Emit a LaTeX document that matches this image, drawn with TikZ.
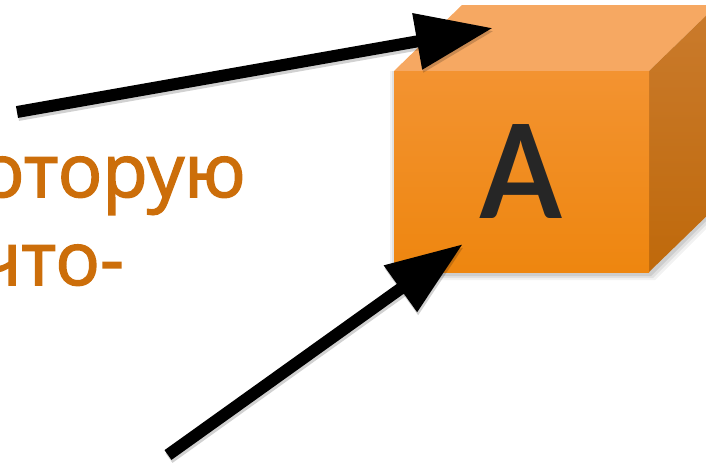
\documentclass[tikz,border=0pt]{standalone}
\usepackage{fontspec}
\setmainfont{Open Sans}
\newfontfamily\phrasefont[FakeBold=2]{Open Sans}
\newfontfamily\letterfont{Lato}
\usetikzlibrary{arrows.meta}
\definecolor{txtorange}{HTML}{CC6E0A}
\definecolor{frontTop}{HTML}{F39331}
\definecolor{frontBot}{HTML}{EE860F}
\definecolor{topFace}{HTML}{F6A862}
\definecolor{sideTop}{HTML}{CA7B2D}
\definecolor{sideBot}{HTML}{BF690B}
\definecolor{letterGray}{HTML}{262626}
\tikzset{
  bigarrow/.style={line width=12pt, draw=black,
    -{Triangle[length=77pt,width=54pt]}},
  arrowshadow/.style={line width=12pt, draw=black, opacity=0.18,
    -{Triangle[length=77pt,width=54pt]}},
  phrase/.style={text=txtorange, font=\phrasefont\fontsize{74}{88}\selectfont,
    inner sep=0pt, anchor=base east},
}
\begin{document}
\begin{tikzpicture}[x=1pt,y=-1pt]
\useasboundingbox (0,0) rectangle (706,467);
\clip (0,0) rectangle (706,467);

% soft shadow under the box
\foreach \d/\o in {6/0.05,4/0.07,2/0.09}
  \fill[black, opacity=\o] (394-\d+2,71) -- (649+\d,71) -- (717+\d,5)
     -- (717+\d,206+\d) -- (649+\d,272+\d+2) -- (394-\d+2,272+\d+2) -- cycle;

% box faces
\fill[topFace] (394,71) -- (462,5) -- (717,5) -- (649,71) -- cycle;
\shade[top color=sideTop, bottom color=sideBot]
  (649,71) -- (717,5) -- (717,206) -- (649,272) -- cycle;
\node[rectangle, minimum width=255pt, minimum height=201pt, inner sep=0pt,
      top color=frontTop, bottom color=frontBot, text=letterGray,
      font=\letterfont\bfseries\fontsize{130}{130}\selectfont]
  (front) at (521.5,171.5) {\scalebox{0.9}[1]{A}};

% text
\node[phrase] (line1) at (246,197) {которую};
\node[phrase] (line2) at (124,285) {что-};

% arrow end points
\coordinate (tailA) at (17,112);
\coordinate (tipA) at (493,28);
\coordinate (tailB) at (168,455);
\coordinate (tipB) at (463,244);

% arrows with light shadows
\draw[arrowshadow] ([shift={(1,3)}]tailA) -- ([shift={(1,3)}]tipA);
\draw[arrowshadow] ([shift={(1,3)}]tailB) -- ([shift={(1,3)}]tipB);
\draw[bigarrow] (tailA) -- (tipA);
\draw[bigarrow] (tailB) -- (tipB);
\end{tikzpicture}
\end{document}
